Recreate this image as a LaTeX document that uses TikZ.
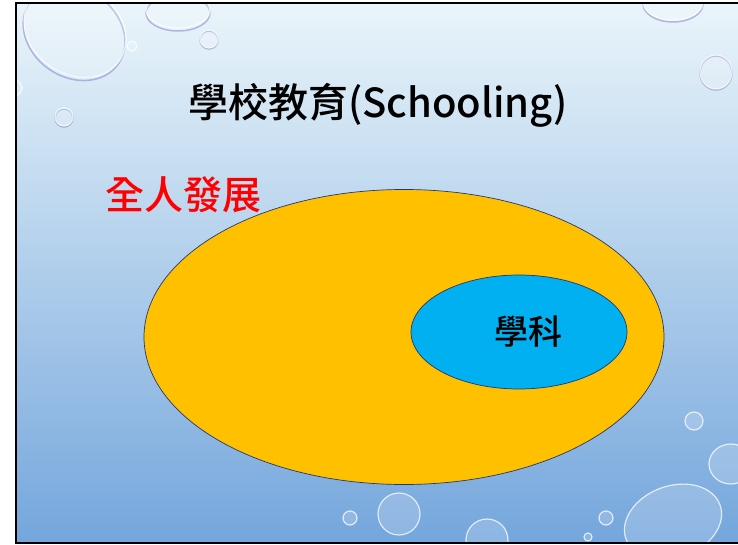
\documentclass[tikz,border=0pt]{standalone}
\usepackage{fontspec}
\usetikzlibrary{shapes.geometric}
\newfontfamily\cjk{Noto Sans CJK TC Medium}
\definecolor{orangefill}{RGB}{255,192,0}
\definecolor{bluefill}{RGB}{0,176,240}
\definecolor{outline}{RGB}{35,55,115}
\definecolor{bgtop}{RGB}{234,245,250}
\definecolor{bgmid}{RGB}{200,226,241}
\definecolor{bgbot}{RGB}{116,166,220}
\definecolor{titlered}{RGB}{255,0,0}
\tikzset{
  droplet/.style={fill=white, fill opacity=0.18, draw=white, draw opacity=0.75, line width=1.2pt},
  dropshade/.style={draw=gray!60!blue, draw opacity=0.35, line width=1.5pt},
  bubble/.style={ellipse, draw=outline, line width=0.7pt, inner sep=0pt},
  label/.style={inner sep=0pt}
}
\begin{document}
\begin{tikzpicture}[x=1pt,y=-1pt]
\useasboundingbox (0,0) rectangle (738,545);
\fill[white] (0,0) rectangle (738,545);
\begin{scope}
  \clip (16,3) rectangle (738,543);
  \shade[top color=bgtop, middle color=bgmid, bottom color=bgbot] (16,3) rectangle (738,543);
  % droplets top-left
  \draw[dropshade, rotate around={-35:(75,30)}] (76,33) ellipse (54 and 44);
  \draw[droplet, rotate around={-35:(75,30)}] (75,30) ellipse (54 and 44);
  \draw[dropshade] (178,13) ellipse (32 and 18);
  \draw[droplet] (178,10) ellipse (32 and 18);
  \draw[dropshade] (209,40) circle (9);
  \draw[droplet] (209,39) circle (9);
  \draw[droplet] (132,46) circle (5);
  \draw[dropshade] (64,118) circle (9);
  \draw[droplet] (64,117) circle (9);
  \draw[droplet] (14,88) circle (8);
  % top-right
  \draw[dropshade] (673,4) ellipse (30 and 18);
  \draw[droplet] (673,2) ellipse (30 and 18);
  \draw[dropshade] (716,73) ellipse (16 and 17);
  \draw[droplet] (716,72) ellipse (16 and 17);
  % bottom-right
  \draw[droplet] (694,421) circle (9);
  \draw[droplet] (731,464) ellipse (22 and 20);
  \draw[droplet, rotate around={20:(673,522)}] (673,522) ellipse (50 and 36);
  \draw[droplet] (606,518) circle (7);
  \draw[droplet] (588,537) circle (4);
  % bottom-middle
  \draw[droplet] (399,514) circle (21);
  \draw[droplet] (487,540) circle (21);
  \draw[droplet] (350,518) circle (7);
\end{scope}
\draw[line width=2pt] (742,3) -- (16,3) -- (16,543) -- (742,543);

\node[bubble, fill=orangefill, minimum width=520pt, minimum height=295pt] (whole) at (404,337) {};
\node[bubble, fill=bluefill, minimum width=216pt, minimum height=114pt] (subj) at (519,332) {};
\node[label, font=\cjk\fontsize{34}{34}\selectfont] (subjtext) at (528,332) {學科};
\node[label, font=\cjk\fontsize{40}{40}\selectfont] (title) at (378,105) {學校教育(Schooling)};
\node[label, text=titlered, font=\cjk\fontsize{39}{39}\selectfont] (whole label) at (183,195) {全人發展};
\end{tikzpicture}
\end{document}
